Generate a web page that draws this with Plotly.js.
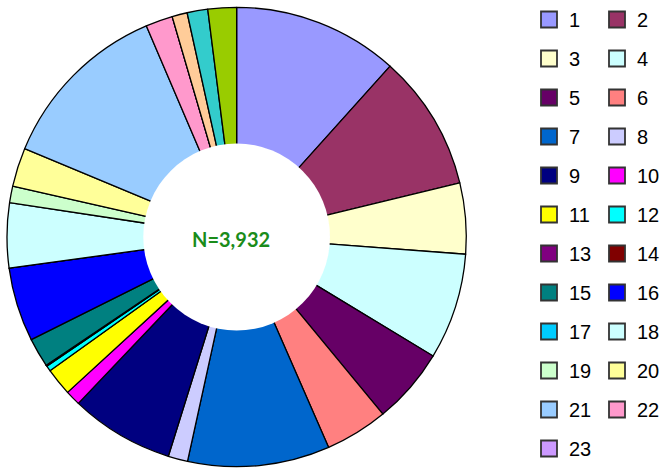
<!DOCTYPE html>
<html>
<head>
<meta charset="utf-8">
<script src="https://cdn.plot.ly/plotly-3.0.1.min.js"></script>
<style>html,body{margin:0;padding:0;background:#fff;}#chart{width:665px;height:469px;}</style>
</head>
<body>
<div id="chart"></div>
<script>
// Categories drawn in the pie (clockwise from 12 o'clock)
const categories = ['1','2','3','4','5','6','7','8','9','10','11','12','13','14','15','16','17','18','19','20','21','22','23','24','25','26'];
// Counts (N = 3,932)
const counts = [458,376,196,294,210,174,393,54,287,42,76,15,3,0,81,205,0,179,46,107,483,75,0,42,57,79];
// Slice colours
const colors = ['#9999FF','#993366','#FFFFCC','#CCFFFF','#660066','#FF8080','#0066CC','#CCCCFF','#000080','#FF00FF','#FFFF00','#00FFFF','#800080','#800000','#008080','#0000FF','#00CCFF','#CCFFFF','#CCFFCC','#FFFF99','#99CCFF','#FF99CC','#CC99FF','#FFCC99','#33CCCC','#99CC00'];
// Legend entries shown in the reference (first 23)
const legendLabels = categories.slice(0, 23);
const totalText = 'N=3,932';

const W = 665, H = 469;
const cx = 237, cy = 237, R = 230;
const holeFrac = 0.4;

const traces = [{
  type: 'pie',
  labels: categories,
  values: counts,
  sort: false,
  direction: 'clockwise',
  rotation: 0,
  hole: holeFrac,
  textinfo: 'none',
  hoverinfo: 'label+value+percent',
  showlegend: false,
  marker: {colors: colors, line: {color: '#000000', width: 1.3}},
  domain: {x: [(cx - R) / W, (cx + R) / W], y: [(H - cy - R) / H, (H - cy + R) / H]}
}];

legendLabels.forEach(function (lab, i) {
  traces.push({
    type: 'scatter',
    mode: 'markers',
    x: [null], y: [null],
    name: lab,
    legendgroup: 'g' + lab,
    legend: (i % 2 === 0) ? 'legend' : 'legend2',
    showlegend: true,
    hoverinfo: 'skip',
    marker: {symbol: 'square', size: 16, color: colors[i], line: {color: '#333333', width: 1.8}}
  });
});

const fs = 20;               // legend font size
const itemH = fs * 1.3 + 3;  // plotly legend item height
const gap = 39 - itemH;      // row pitch 39px
const topPx = -4;            // legend box top (px)
function legendBottomY(n) {
  const h = n * itemH + (n - 1) * gap + 10;
  return (H - (topPx + h)) / H;
}

const legendCommon = {
  orientation: 'v',
  yanchor: 'bottom',
  xanchor: 'left',
  bgcolor: 'rgba(0,0,0,0)',
  borderwidth: 0,
  traceorder: 'grouped',
  tracegroupgap: gap,
  font: {family: 'Liberation Sans, Arial, sans-serif', size: fs, color: '#000000'}
};

const r2 = R * holeFrac + 1.5;
const layout = {
  width: W, height: H,
  margin: {l: 0, r: 0, t: 0, b: 0},
  paper_bgcolor: '#ffffff',
  plot_bgcolor: '#ffffff',
  xaxis: {visible: false},
  yaxis: {visible: false},
  showlegend: true,
  legend: Object.assign({}, legendCommon, {x: 529 / W, y: legendBottomY(12)}),
  legend2: Object.assign({}, legendCommon, {x: 597.5 / W, y: legendBottomY(11)}),
  shapes: [{
    type: 'circle', xref: 'paper', yref: 'paper', layer: 'above',
    x0: (cx - r2) / W, x1: (cx + r2) / W,
    y0: (H - cy - r2) / H, y1: (H - cy + r2) / H,
    fillcolor: '#ffffff', line: {width: 0}
  }],
  annotations: [{
    text: '<b>' + totalText + '</b>',
    xref: 'paper', yref: 'paper',
    x: 231 / W, y: 1 - 239 / H,
    xanchor: 'center', yanchor: 'middle',
    showarrow: false,
    font: {family: 'Lato, Open Sans, sans-serif', size: 20, color: '#1a8c1a'}
  }]
};

Plotly.newPlot('chart', traces, layout, {displayModeBar: false, staticPlot: true});
</script>
</body>
</html>
